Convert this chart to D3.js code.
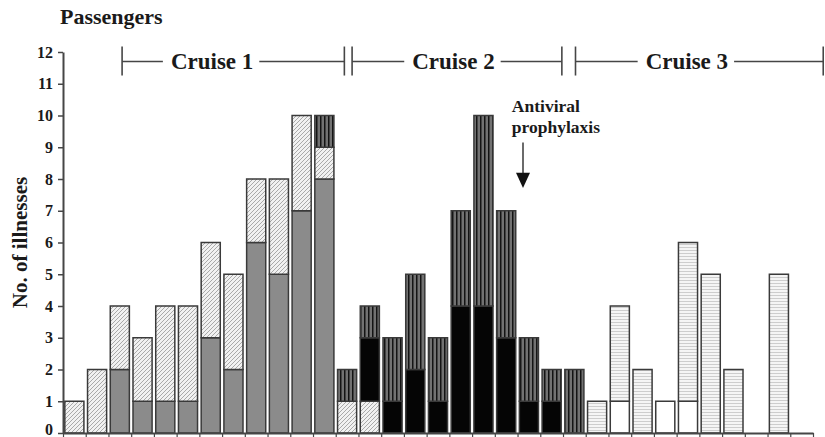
<!DOCTYPE html>
<html>
<head>
<meta charset="utf-8">
<script src="https://cdn.jsdelivr.net/npm/d3@7"></script>
<style>
    html, body { margin: 0; padding: 0; background: #fff; }
    svg { display: block; font-family: 'Liberation Serif', 'Times New Roman', serif; font-weight: bold; }
</style>
</head>
<body>
<svg id="chart" width="825" height="437"></svg>
<script>
// one slot per day of the outbreak, 33 slots across the three cruises
const days = d3.range(1, 34);

// cases per day, by fill (stack order bottom -> top)
const stippled   = [0, 0, 2, 1, 1, 1, 3, 2, 6, 5, 7, 8,  0, 0, 0, 0, 0, 0, 0, 0, 0, 0, 0,  0, 0, 0, 0, 0, 0, 0, 0, 0, 0];
const diagonal   = [1, 2, 2, 2, 3, 3, 3, 3, 2, 3, 3, 1,  1, 1, 0, 0, 0, 0, 0, 0, 0, 0, 0,  0, 0, 0, 0, 0, 0, 0, 0, 0, 0];
const solid      = [0, 0, 0, 0, 0, 0, 0, 0, 0, 0, 0, 0,  0, 2, 1, 2, 1, 4, 4, 3, 1, 1, 0,  0, 0, 0, 0, 0, 0, 0, 0, 0, 0];
const vertical   = [0, 0, 0, 0, 0, 0, 0, 0, 0, 0, 0, 1,  1, 1, 2, 3, 2, 3, 6, 4, 2, 1, 2,  0, 0, 0, 0, 0, 0, 0, 0, 0, 0];
const open       = [0, 0, 0, 0, 0, 0, 0, 0, 0, 0, 0, 0,  0, 0, 0, 0, 0, 0, 0, 0, 0, 0, 0,  0, 1, 0, 1, 1, 0, 0, 0, 0, 0];
const horizontal = [0, 0, 0, 0, 0, 0, 0, 0, 0, 0, 0, 0,  0, 0, 0, 0, 0, 0, 0, 0, 0, 0, 0,  1, 3, 2, 0, 5, 5, 2, 0, 5, 0];

const yTicks = d3.range(0, 13);

// cruise brackets, in slot units (0 = left edge of first slot)
const cruiseNames  = ['Cruise 1', 'Cruise 2', 'Cruise 3'];
const cruiseStarts = [2.6, 12.72, 22.55];
const cruiseEnds   = [12.38, 21.95, 33.45];
const cruiseLabelAt = [6.56, 17.18, 27.45];

const keys = ['stippled', 'diagonal', 'solid', 'vertical', 'open', 'horizontal'];
const table = days.map((d, i) => ({
    day: d,
    stippled: stippled[i],
    diagonal: diagonal[i],
    solid: solid[i],
    vertical: vertical[i],
    open: open[i],
    horizontal: horizontal[i]
}));

const margin = { left: 63, right: 12, top: 52, bottom: 4 };
const width = 825, height = 437;
const ink = '#1a1a1a';
const lineColor = '#464646';

const svg = d3.select('#chart');

const x = d3.scaleBand()
    .domain(days)
    .range([margin.left, width - margin.right])
    .paddingInner(0.16)
    .paddingOuter(0.08);

// same span as x, but continuous, for slot boundaries / annotations
const xs = d3.scaleLinear()
    .domain([0, days.length])
    .range([margin.left, width - margin.right]);

const y = d3.scaleLinear()
    .domain([0, 12])
    .range([height - margin.bottom, margin.top]);

// fills
const defs = svg.append('defs');

const diag = defs.append('pattern')
    .attr('id', 'diagonal')
    .attr('patternUnits', 'userSpaceOnUse')
    .attr('width', 4).attr('height', 4);
diag.append('rect').attr('width', 4).attr('height', 4).attr('fill', '#f1f1f1');
diag.append('path').attr('d', 'M-1,1 l2,-2 M0,4 l4,-4 M3,5 l2,-2')
    .attr('stroke', '#a9a9a9').attr('stroke-width', 1);

const vert = defs.append('pattern')
    .attr('id', 'vertical')
    .attr('patternUnits', 'userSpaceOnUse')
    .attr('width', 4).attr('height', 4);
vert.append('rect').attr('width', 4).attr('height', 4).attr('fill', '#727272');
vert.append('rect').attr('x', 0).attr('width', 1.5).attr('height', 4).attr('fill', '#141414');

const horiz = defs.append('pattern')
    .attr('id', 'horizontal')
    .attr('patternUnits', 'userSpaceOnUse')
    .attr('width', 4).attr('height', 3);
horiz.append('rect').attr('width', 4).attr('height', 3).attr('fill', '#f5f5f5');
horiz.append('rect').attr('y', 1).attr('width', 4).attr('height', 1).attr('fill', '#cdcdcd');

const fills = {
    stippled: '#8b8b8b',
    diagonal: 'url(#diagonal)',
    solid: '#050505',
    vertical: 'url(#vertical)',
    open: '#ffffff',
    horizontal: 'url(#horizontal)'
};

// bars
const series = d3.stack().keys(keys)(table);

svg.append('g')
    .selectAll('g')
    .data(series)
    .join('g')
    .attr('fill', d => fills[d.key])
    .selectAll('rect')
    .data(d => d.filter(s => s[1] > s[0]))
    .join('rect')
    .attr('x', d => x(d.data.day))
    .attr('y', d => y(d[1]))
    .attr('width', x.bandwidth())
    .attr('height', d => y(d[0]) - y(d[1]))
    .attr('stroke', '#3a3a3a')
    .attr('stroke-width', 1.5);

// y axis
const yAxis = svg.append('g')
    .attr('transform', `translate(${margin.left},0)`)
    .call(d3.axisLeft(y).tickValues(yTicks).tickSize(5).tickSizeOuter(0).tickPadding(5));
yAxis.select('.domain').attr('stroke', lineColor).attr('stroke-width', 2);
yAxis.selectAll('.tick line').attr('stroke', lineColor).attr('stroke-width', 1.5);
yAxis.selectAll('.tick text')
    .attr('fill', ink)
    .style('font-family', 'Liberation Serif')
    .style('font-weight', 'bold')
    .style('font-size', '16px');
// the 0 sits right on the bottom edge; lift it a little so it stays inside
yAxis.selectAll('.tick text').filter(d => d === 0).attr('dy', '0.1em');

// x axis: plain baseline with a tick at every slot boundary
const xAxis = svg.append('g')
    .attr('transform', `translate(0,${y(0)})`)
    .call(d3.axisBottom(xs).tickValues(d3.range(days.length + 1)).tickSize(5).tickSizeOuter(0).tickFormat(''));
xAxis.select('.domain').attr('stroke', lineColor).attr('stroke-width', 2);
xAxis.selectAll('.tick line').attr('stroke', lineColor).attr('stroke-width', 1.2);

// titles
svg.append('text')
    .attr('x', 60).attr('y', 24)
    .attr('fill', ink)
    .style('font-size', '22px')
    .text('Passengers');

svg.append('text')
    .attr('transform', `translate(27,${(y(0) + y(12)) / 2}) rotate(-90)`)
    .attr('text-anchor', 'middle')
    .attr('fill', ink)
    .style('font-size', '21px')
    .text('No. of illnesses');

// cruise brackets
const bracketY = y(11.7);
const cruises = svg.append('g').attr('stroke', lineColor).attr('stroke-width', 1.6);
cruiseNames.forEach((name, i) => {
    const label = svg.append('text')
        .attr('x', xs(cruiseLabelAt[i]))
        .attr('y', bracketY + 7)
        .attr('text-anchor', 'middle')
        .attr('fill', ink)
        .style('font-size', '23px')
        .text(name);
    const half = label.node().getComputedTextLength() / 2;
    const x0 = xs(cruiseStarts[i]);
    const x1 = xs(cruiseEnds[i]);
    const cx = xs(cruiseLabelAt[i]);

    cruises.append('line').attr('x1', x0).attr('x2', x0).attr('y1', bracketY - 15).attr('y2', bracketY + 14);
    cruises.append('line').attr('x1', x1).attr('x2', x1).attr('y1', bracketY - 15).attr('y2', bracketY + 14);
    cruises.append('line').attr('x1', x0).attr('x2', cx - half - 8).attr('y1', bracketY).attr('y2', bracketY);
    cruises.append('line').attr('x1', cx + half + 6).attr('x2', x1).attr('y1', bracketY).attr('y2', bracketY);
});

// antiviral prophylaxis marker
const noteX = xs(19.75);
svg.append('text')
    .attr('x', noteX).attr('y', y(10.1))
    .attr('fill', ink)
    .style('font-size', '17.5px')
    .text('Antiviral');
svg.append('text')
    .attr('x', noteX).attr('y', y(9.45))
    .attr('fill', ink)
    .style('font-size', '17.5px')
    .text('prophylaxis');

const arrowX = xs(20.24);
svg.append('line')
    .attr('x1', arrowX).attr('x2', arrowX)
    .attr('y1', y(9.15)).attr('y2', y(8.0))
    .attr('stroke', lineColor).attr('stroke-width', 1.6);
svg.append('path')
    .attr('d', d3.line()([[arrowX - 7, y(8.2)], [arrowX + 7, y(8.2)], [arrowX, y(7.72)]]) + 'Z')
    .attr('fill', '#111');
</script>
</body>
</html>
